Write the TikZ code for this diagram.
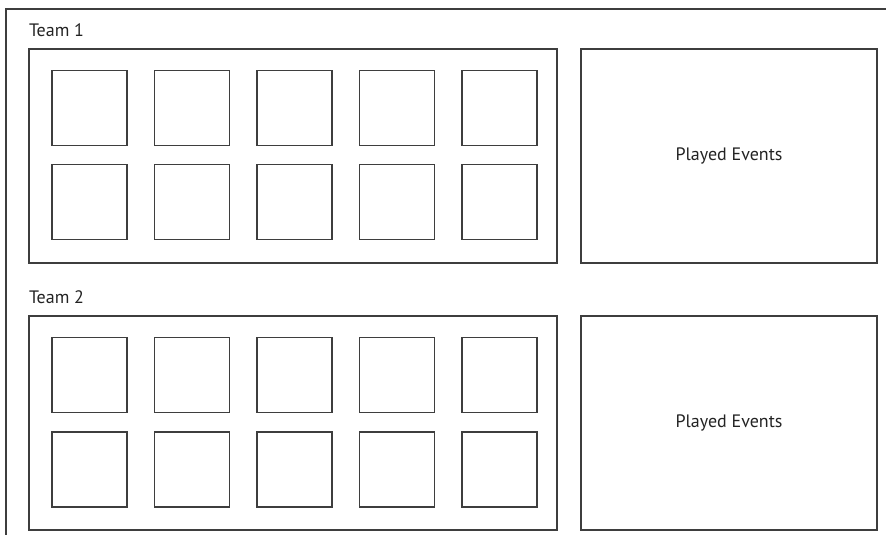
\documentclass[tikz,border=0pt]{standalone}
\usepackage{fontspec}
\setsansfont{PT Sans}
\usetikzlibrary{positioning}
\definecolor{LineGray}{RGB}{62,62,62}
\definecolor{TextGray}{RGB}{35,35,35}

\begin{document}
\begin{tikzpicture}[
  x=1pt, y=1pt,
  font=\sffamily\fontsize{18}{21}\selectfont,
  panel/.style={draw=LineGray, line width=1.2pt, minimum width=528pt, minimum height=214pt, inner sep=0pt, outer sep=0pt},
  events/.style={draw=LineGray, line width=1.2pt, minimum width=296pt, minimum height=214pt, inner sep=0pt, outer sep=0pt, text=TextGray},
  cell/.style={draw=LineGray, line width=1.2pt, minimum size=75pt, inner sep=0pt, outer sep=0pt},
  title/.style={inner sep=0pt, outer sep=0pt, text=TextGray},
  frame/.style={draw=LineGray, line width=1.3pt}
]
\useasboundingbox (0,0) rectangle (886,535);

% open outer frame
\coordinate (frameA) at (6,0);
\coordinate (frameB) at (886,526);
\draw[frame] (frameA) |- (frameB);

% team 1
\node[panel] (team1) at (293,379) {};
\node[title, above=12pt of team1.north west, anchor=south west] (label1) {Team 1};
\node[events, right=24pt of team1] (played1) {Played Events};
\node[cell, below right=21.5pt and 23pt of team1.north west] (t1a0) {};
\node[cell, below=19pt of t1a0] (t1b0) {};
\foreach \i [count=\j from 1] in {0,...,3} {
  \node[cell, right=27.5pt of t1a\i] (t1a\j) {};
  \node[cell, right=27.5pt of t1b\i] (t1b\j) {};
}

% team 2
\node[panel, below=53pt of team1] (team2) {};
\node[title, above=12pt of team2.north west, anchor=south west] (label2) {Team 2};
\node[events, right=24pt of team2] (played2) {Played Events};
\node[cell, below right=21.5pt and 23pt of team2.north west] (t2a0) {};
\node[cell, below=19.5pt of t2a0] (t2b0) {};
\foreach \i [count=\j from 1] in {0,...,3} {
  \node[cell, right=27.5pt of t2a\i] (t2a\j) {};
  \node[cell, right=27.5pt of t2b\i] (t2b\j) {};
}
\end{tikzpicture}
\end{document}
